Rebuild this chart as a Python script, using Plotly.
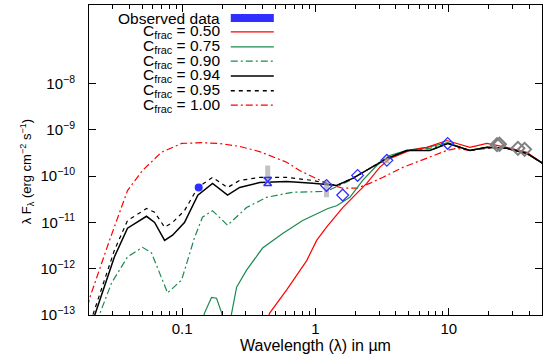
import plotly.graph_objects as go
import numpy as np

# ---- model curves (wavelength in micron, lambda*F_lambda in erg cm^-2 s^-1) ----
wl_c100 = [0.0195, 0.0202, 0.0285, 0.0389, 0.0504, 0.070, 0.099, 0.142, 0.191, 0.270, 0.381, 0.608, 0.760,
           1.21, 1.60, 2.04, 2.55, 3.19, 4.52, 6.84, 9.66, 11.5, 14.4, 19.3, 27.2, 38.5, 52.0]
f_c100 = [1.5e-13, 2.3e-13, 4.1e-12, 4.9e-11, 1.33e-10, 3.3e-10, 5.1e-10, 5.3e-10, 5.1e-10, 4.4e-10, 3.4e-10, 2.0e-10, 1.33e-10,
          7.0e-11, 5.5e-11, 5.5e-11, 7.0e-11, 9.4e-11, 1.55e-10, 2.5e-10, 3.6e-10, 4.0e-10, 3.6e-10, 4.0e-10, 4.0e-10, 3.1e-10, 1.8e-10]

wl_c094 = [0.0212, 0.0261, 0.031, 0.0389, 0.054, 0.0621, 0.0738, 0.0847, 0.104, 0.131, 0.169, 0.219, 0.270, 0.381, 0.608,
           0.953, 1.44, 1.90, 2.55, 3.42, 4.84, 7.2, 9.83, 14.4, 19.3, 27.2, 38.5, 52.0]
f_c094 = [7e-14, 4.0e-13, 1.8e-12, 7.5e-12, 1.36e-11, 1.0e-11, 4.1e-12, 5.3e-12, 1.0e-11, 3.9e-11, 7.0e-11, 3.9e-11, 5.7e-11, 7.3e-11, 7.7e-11,
          7.0e-11, 6.3e-11, 9.0e-11, 1.47e-10, 2.4e-10, 3.6e-10, 3.6e-10, 5.1e-10, 3.6e-10, 4.2e-10, 4.0e-10, 3.1e-10, 1.8e-10]

wl_c095 = [0.0205, 0.0261, 0.031, 0.0389, 0.054, 0.0621, 0.0738, 0.0847, 0.104, 0.131, 0.169, 0.219, 0.270, 0.381, 0.608,
           0.953, 1.21, 1.44, 1.90, 2.55, 3.42, 4.84, 7.2, 9.83, 14.4, 19.3, 27.2, 38.5, 52.0]
f_c095 = [7e-14, 5.7e-13, 2.5e-12, 1.1e-11, 2.0e-11, 1.66e-11, 7.9e-12, 1.0e-11, 1.8e-11, 5.7e-11, 9.4e-11, 5.7e-11, 8.1e-11, 9.4e-11, 9.4e-11,
          8.1e-11, 7.0e-11, 6.3e-11, 9.0e-11, 1.47e-10, 2.4e-10, 3.6e-10, 3.6e-10, 5.1e-10, 3.6e-10, 4.2e-10, 4.0e-10, 3.1e-10, 1.8e-10]

wl_c090 = [0.0228, 0.0295, 0.0389, 0.0504, 0.0589, 0.0777, 0.099, 0.124, 0.142, 0.169, 0.219, 0.304, 0.430, 0.674,
           1.21, 1.81, 3.19, 4.84, 7.2, 9.83, 14.4, 19.3, 27.2, 38.5, 52.0]
f_c090 = [7e-14, 4.9e-13, 1.8e-12, 2.9e-12, 2.2e-12, 3.0e-13, 5.7e-13, 4.8e-12, 1.3e-11, 1.8e-11, 8.7e-12, 2.1e-11, 3.5e-11, 4.5e-11,
          4.7e-11, 8.1e-11, 2.2e-10, 3.6e-10, 4.0e-10, 5.1e-10, 3.6e-10, 4.2e-10, 4.0e-10, 3.1e-10, 1.8e-10]

wl_c075 = [0.135, 0.147, 0.166, 0.181, 0.198, 0.212, 0.225, 0.235, 0.256, 0.304, 0.401, 0.567, 0.801, 1.24, 1.44, 1.81,
           2.26, 2.88, 3.60, 4.84, 6.84, 9.83, 14.4, 19.3, 27.2, 38.5, 52.0]
f_c075 = [4e-14, 1.1e-13, 2.4e-13, 2.3e-13, 1.1e-13, 4e-14, 4e-14, 1.1e-13, 4.0e-13, 9.3e-13, 2.8e-12, 5.8e-12, 1.1e-11, 2.0e-11, 2.3e-11, 3.5e-11,
          8.1e-11, 1.7e-10, 2.8e-10, 3.6e-10, 4.2e-10, 5.3e-10, 3.6e-10, 4.2e-10, 4.0e-10, 3.1e-10, 1.8e-10]

wl_c050 = [0.43, 0.453, 0.608, 0.859, 1.02, 1.21, 1.60, 2.42, 3.03, 3.60, 5.10, 6.84, 9.66, 14.4, 19.3, 27.2, 38.5, 52.0]
f_c050 = [7e-14, 1.1e-13, 3.5e-13, 1.5e-12, 4.1e-12, 7.9e-12, 2.1e-11, 7.0e-11, 1.55e-10, 2.4e-10, 3.6e-10, 4.2e-10, 5.9e-10, 4.2e-10, 5.1e-10, 4.2e-10, 3.3e-10, 1.8e-10]

# ---- observed photometry ----
wl_uv = [0.133]
f_uv = [5.7e-11]
wl_opt = [0.438]
f_opt = [7.7e-11]
wl_nir = [1.21, 1.60, 2.07, 3.43, 9.8]
f_nir = [6.3e-11, 3.9e-11, 1.04e-10, 2.2e-10, 5.1e-10]
wl_far = [23.0, 24.0, 33.0, 37.0]
f_far = [4.8e-10, 4.9e-10, 4.0e-10, 3.8e-10]
# variability ranges (grey bars)
wl_rng = [0.438, 1.21, 3.43]
f_rng_lo = [7.0e-11, 3.5e-11, 1.9e-10]
f_rng_hi = [1.7e-10, 8.0e-11, 2.5e-10]

RED = "#ff0000"
GREEN = "#1a8a4e"
BLUE = "#2f2fff"

fig = go.Figure()

def add_line(x, y, color, dash, width=1.2):
    fig.add_trace(go.Scatter(x=x, y=y, mode="lines", line=dict(color=color, dash=dash, width=width),
                             showlegend=False, hoverinfo="skip"))

add_line(wl_c100, f_c100, RED, "7px,3px,2px,3px")
add_line(wl_c090, f_c090, GREEN, "7px,3px,2px,3px")
add_line(wl_c075, f_c075, GREEN, "solid")
add_line(wl_c050, f_c050, RED, "solid")
add_line(wl_c095, f_c095, "black", "4px,4px")
add_line(wl_c094, f_c094, "black", "solid", 1.5)

# grey range bars
rx, ry = [], []
for w, lo, hi in zip(wl_rng, f_rng_lo, f_rng_hi):
    rx += [w, w, None]
    ry += [lo, hi, None]
fig.add_trace(go.Scatter(x=rx, y=ry, mode="lines", line=dict(color="rgba(170,170,170,0.7)", width=5),
                         showlegend=False, hoverinfo="skip"))

fig.add_trace(go.Scatter(x=wl_uv, y=f_uv, mode="markers", showlegend=False,
                         marker=dict(symbol="circle", size=8, color=BLUE)))
fig.add_trace(go.Scatter(x=wl_opt, y=f_opt, mode="markers", showlegend=False,
                         marker=dict(symbol="hourglass", size=8, color="rgba(0,0,0,0)",
                                     line=dict(color=BLUE, width=1.5))))
fig.add_trace(go.Scatter(x=wl_nir, y=f_nir, mode="markers", showlegend=False,
                         marker=dict(symbol="diamond-open", size=9, color=BLUE, line=dict(width=1.3))))
fig.add_trace(go.Scatter(x=wl_far, y=f_far, mode="markers", showlegend=False,
                         marker=dict(symbol="diamond-open", size=10, color="#808080", line=dict(width=2))))

# ---- gnuplot style key (text right-aligned, sample on the right) ----
key_labels = ["Observed data", "C<sub>frac</sub> = 0.50", "C<sub>frac</sub> = 0.75", "C<sub>frac</sub> = 0.90",
              "C<sub>frac</sub> = 0.94", "C<sub>frac</sub> = 0.95", "C<sub>frac</sub> = 1.00"]
key_colors = [BLUE, RED, GREEN, GREEN, "black", "black", RED]
key_dash = [None, "solid", "solid", "7px,3px,2px,3px", "solid", "4px,4px", "7px,3px,2px,3px"]
key_y = [0.958, 0.913, 0.865, 0.819, 0.771, 0.723, 0.677]
x_txt, x0, x1 = 0.293, 0.313, 0.408
for lab, col, dsh, yy in zip(key_labels, key_colors, key_dash, key_y):
    fig.add_annotation(x=x_txt, y=yy, xref="paper", yref="paper", text=lab, showarrow=False,
                       xanchor="right", yanchor="middle", font=dict(size=15.5, color="black"))
    if dsh is None:
        fig.add_shape(type="rect", xref="paper", yref="paper", x0=x0, x1=x1, y0=yy - 0.013, y1=yy + 0.013,
                      fillcolor=BLUE, line=dict(width=0))
    else:
        fig.add_shape(type="line", xref="paper", yref="paper", x0=x0, x1=x1, y0=yy, y1=yy,
                      line=dict(color=col, dash=dsh, width=1.3 if col != "black" else 1.5))

# y-axis title (placed as in the original, slightly below the axis centre)
fig.add_annotation(x=-0.138, y=0.465, xref="paper", yref="paper", textangle=-90, showarrow=False,
                   text="λ F<sub>λ</sub> (erg cm<sup>−2</sup> s<sup>−1</sup>)",
                   xanchor="center", yanchor="middle", font=dict(size=13, color="black"))

minor_x = []
for dec in [0.01, 0.1, 1, 10]:
    for k in range(2, 10):
        v = k * dec
        if 0.02 <= v <= 50:
            minor_x.append(v)

fig.update_xaxes(type="log", range=[np.log10(0.02), np.log10(50)],
                 tickvals=[0.1, 1, 10], ticktext=["0.1", "1", "10"],
                 ticks="inside", ticklen=7, tickcolor="black", showline=True, linecolor="black", linewidth=1,
                 mirror="allticks", showgrid=False, zeroline=False,
                 minor=dict(tickvals=minor_x, ticks="inside", ticklen=4, tickcolor="black", showgrid=False),
                 tickfont=dict(size=15, color="black"),
                 title=dict(text="Wavelength (λ) in µm", font=dict(size=16, color="black"), standoff=2))
fig.update_yaxes(type="log", range=[-13, -6.3],
                 tickvals=[1e-13, 1e-12, 1e-11, 1e-10, 1e-9, 1e-8],
                 ticktext=["10<sup>−13</sup>", "10<sup>−12</sup>", "10<sup>−11</sup>", "10<sup>−10</sup>",
                           "10<sup>−9</sup>", "10<sup>−8</sup>"],
                 ticks="inside", ticklen=7, tickcolor="black", showline=True, linecolor="black", linewidth=1,
                 mirror="allticks", showgrid=False, zeroline=False,
                 tickfont=dict(size=15, color="black"), ticklabelstandoff=10)

fig.update_layout(width=550, height=364, margin=dict(l=89, r=8, t=5, b=49),
                  paper_bgcolor="white", plot_bgcolor="white",
                  font=dict(family="Liberation Sans, Arial, sans-serif", size=14, color="black"))

fig.write_html("out.html", config={"displayModeBar": False},
               post_script="document.body.style.margin='0';")
